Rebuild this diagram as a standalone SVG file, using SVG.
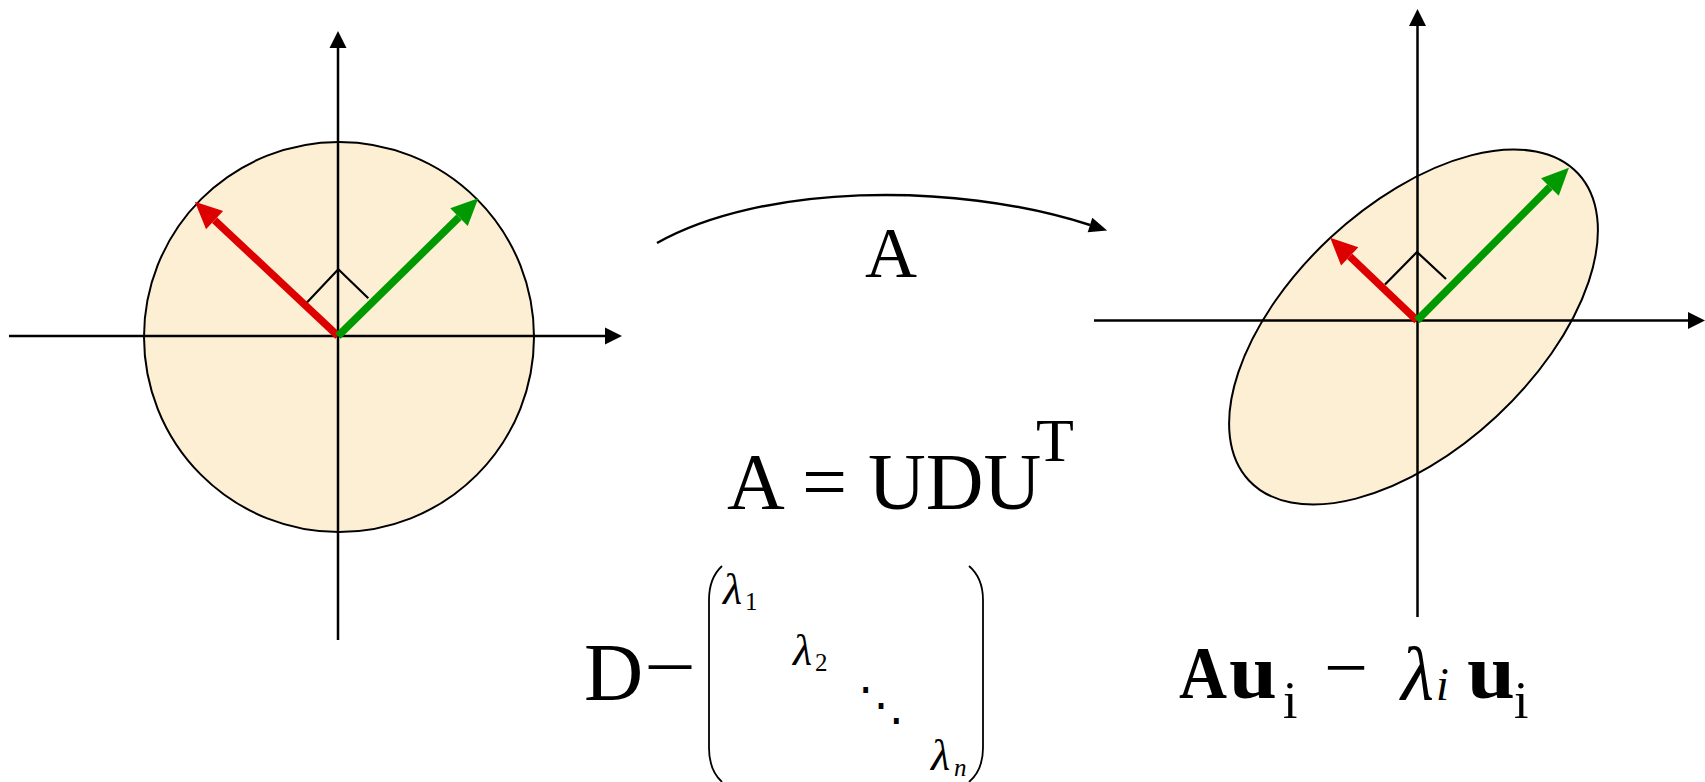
<svg xmlns="http://www.w3.org/2000/svg" width="1705" height="782" viewBox="0 0 1705 782">
<style>
.axis{stroke:#000;stroke-width:2.5;fill:none}
.shape{fill:#FDEFD4;stroke:#000;stroke-width:2}
.red{stroke:#DD0000;stroke-width:7.5;fill:none}
.green{stroke:#009900;stroke-width:7.5;fill:none}
.ra{stroke:#000;stroke-width:2.2;fill:none}
.conn{stroke:#000;stroke-width:2.5;fill:none}
.paren{stroke:#000;stroke-width:1.8;fill:none}
text{font-family:"Liberation Serif","Times New Roman",serif;fill:#000}
.it{font-style:italic}
.bd{font-weight:bold}
</style>
<defs>
<marker id="ax" markerUnits="userSpaceOnUse" markerWidth="17" markerHeight="17" refX="0" refY="8.5" orient="auto" overflow="visible"><path d="M0,0 L17,8.5 L0,17 Z" fill="#000"/></marker>
<marker id="hr" markerUnits="userSpaceOnUse" markerWidth="27" markerHeight="25" refX="0" refY="12.5" orient="auto" overflow="visible"><path d="M0,0 L27,12.5 L0,25 Z" fill="#DD0000"/></marker>
<marker id="hg" markerUnits="userSpaceOnUse" markerWidth="27" markerHeight="25" refX="0" refY="12.5" orient="auto" overflow="visible"><path d="M0,0 L27,12.5 L0,25 Z" fill="#009900"/></marker>
<marker id="hc" markerUnits="userSpaceOnUse" markerWidth="18" markerHeight="15" refX="0" refY="7.5" orient="auto" overflow="visible"><path d="M0,0 L18,7.5 L0,15 Z" fill="#000"/></marker>
</defs>

<g id="left-figure">
<circle class="shape" cx="339" cy="337" r="195"/>
<line class="axis" x1="9" y1="336" x2="605" y2="336" marker-end="url(#ax)"/>
<line class="axis" x1="338" y1="640" x2="338" y2="48" marker-end="url(#ax)"/>
<polyline class="ra" points="306.7,302.7 338.3,269.3 368.3,298.3"/>
<line class="red" x1="338" y1="336" x2="214.6" y2="220.2" marker-end="url(#hr)"/>
<line class="green" x1="338" y1="336" x2="459" y2="217.2" marker-end="url(#hg)"/>
</g>

<g id="right-figure">
<ellipse class="shape" cx="1413.5" cy="327" rx="225" ry="122" transform="rotate(-43 1413.5 327)"/>
<line class="axis" x1="1094" y1="320.5" x2="1688" y2="320.5" marker-end="url(#ax)"/>
<line class="axis" x1="1417.5" y1="617" x2="1417.5" y2="26" marker-end="url(#ax)"/>
<polyline class="ra" points="1385,284.5 1417,252 1446,279"/>
<line class="red" x1="1417" y1="320.5" x2="1349.7" y2="256.4" marker-end="url(#hr)"/>
<line class="green" x1="1417" y1="320.5" x2="1549.9" y2="187" marker-end="url(#hg)"/>
</g>

<g id="connectors">
<path class="conn" d="M657,243 C760,185 950,180 1090,225" marker-end="url(#hc)"/>
</g>

<g id="label-A">
<text x="891" y="277" font-size="72" text-anchor="middle">A</text>
</g>

<g id="eq-udu">
<text font-size="80"><tspan x="727" y="509">A</tspan><tspan x="802" y="509">=</tspan><tspan x="868" y="509">UDU</tspan></text>
<text x="1036" y="461" font-size="62">T</text>
</g>

<g id="eq-d">
<text x="584" y="700" font-size="82">D</text>
<text x="644" y="693" font-size="78" textLength="52" lengthAdjust="spacingAndGlyphs">−</text>
<path class="paren" d="M722,566 Q709,578 709,600 L709,748 Q709,770 722,782"/>
<path class="paren" d="M969,566 Q983,578 983,600 L983,748 Q983,770 969,782"/>
<text class="it" x="723" y="604" font-size="44">λ</text>
<text x="745" y="610" font-size="25">1</text>
<text class="it" x="793" y="665" font-size="44">λ</text>
<text x="815" y="671" font-size="25">2</text>
<text x="858" y="720" font-size="46" font-family="DejaVu Serif">⋱</text>
<text class="it" x="931" y="770" font-size="44">λ</text>
<text class="it" x="954" y="776" font-size="25">n</text>
</g>

<g id="eq-eig">
<text class="bd" x="1179" y="698" font-size="73" textLength="48" lengthAdjust="spacingAndGlyphs">A</text>
<text class="bd" x="1229" y="698" font-size="78" textLength="48" lengthAdjust="spacingAndGlyphs">u</text>
<text x="1283" y="718" font-size="52">i</text>
<text x="1324" y="693" font-size="76" textLength="44" lengthAdjust="spacingAndGlyphs">−</text>
<text class="it" x="1401" y="700" font-size="76">λ</text>
<text class="it" x="1436" y="700" font-size="46">i</text>
<text class="bd" x="1467" y="698" font-size="78" textLength="48" lengthAdjust="spacingAndGlyphs">u</text>
<text x="1514" y="718" font-size="52">i</text>
</g>
</svg>
